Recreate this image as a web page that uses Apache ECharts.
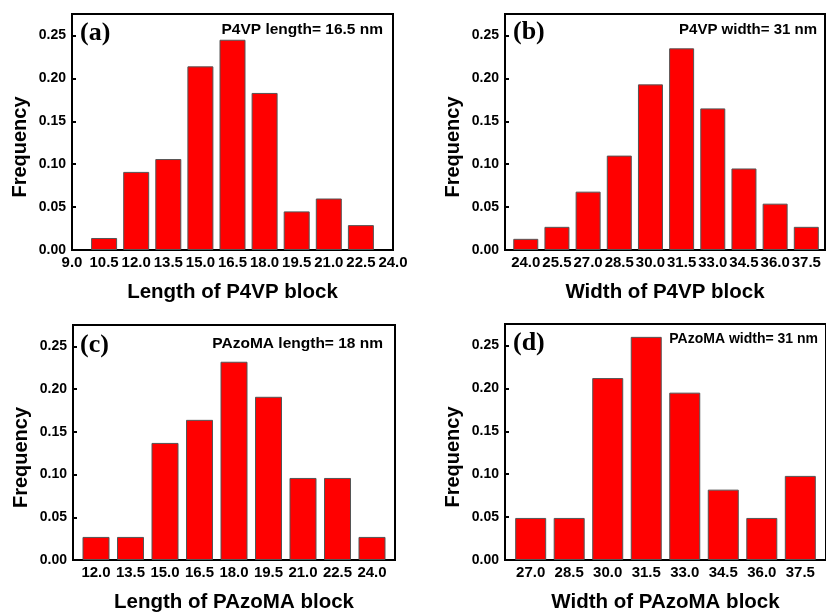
<!DOCTYPE html>
<html>
<head>
<meta charset="utf-8">
<script src="https://cdn.jsdelivr.net/npm/echarts@6/dist/echarts.min.js"></script>
<style>
  html, body { margin: 0; padding: 0; background: #fff; }
  #chart { width: 826px; height: 614px; }
</style>
</head>
<body>
<div id="chart"></div>
<script>
// bin centres and frequencies
const lenP4VPBins = [10.5, 12.0, 13.5, 15.0, 16.5, 18.0, 19.5, 21.0, 22.5];
const lenP4VPFreq = [0.014, 0.091, 0.106, 0.214, 0.245, 0.183, 0.045, 0.060, 0.029];
const widP4VPBins = [24.0, 25.5, 27.0, 28.5, 30.0, 31.5, 33.0, 34.5, 36.0, 37.5];
const widP4VPFreq = [0.013, 0.027, 0.068, 0.110, 0.193, 0.235, 0.165, 0.095, 0.054, 0.027];
const lenPAzoMABins = [12.0, 13.5, 15.0, 16.5, 18.0, 19.5, 21.0, 22.5, 24.0];
const lenPAzoMAFreq = [0.027, 0.027, 0.137, 0.164, 0.232, 0.191, 0.096, 0.096, 0.027];
const widPAzoMABins = [27.0, 28.5, 30.0, 31.5, 33.0, 34.5, 36.0, 37.5];
const widPAzoMAFreq = [0.049, 0.049, 0.212, 0.260, 0.195, 0.082, 0.049, 0.098];

// tick labels
const lenP4VPTicks = [9.0, 10.5, 12.0, 13.5, 15.0, 16.5, 18.0, 19.5, 21.0, 22.5, 24.0];
const widP4VPTicks = [24.0, 25.5, 27.0, 28.5, 30.0, 31.5, 33.0, 34.5, 36.0, 37.5];
const lenPAzoMATicks = [12.0, 13.5, 15.0, 16.5, 18.0, 19.5, 21.0, 22.5, 24.0];
const widPAzoMATicks = [27.0, 28.5, 30.0, 31.5, 33.0, 34.5, 36.0, 37.5];
const freqTicks = [0, 0.05, 0.10, 0.15, 0.20, 0.25];

const sans = 'Liberation Sans';
const serif = 'Liberation Serif';

const panels = [
  { grid: { left: 72, top: 14, width: 321, height: 236 }, min: 9, max: 24, ticks: lenP4VPTicks,
    bins: lenP4VPBins, freq: lenP4VPFreq, barW: 26, xName: 'Length of P4VP block' },
  { grid: { left: 505, top: 14, width: 320, height: 236 }, min: 23, max: 38.4, ticks: widP4VPTicks,
    bins: widP4VPBins, freq: widP4VPFreq, barW: 25, xName: 'Width of P4VP block' },
  { grid: { left: 73, top: 325, width: 322, height: 237 }, min: 11, max: 25, ticks: lenPAzoMATicks,
    bins: lenPAzoMABins, freq: lenPAzoMAFreq, barW: 27, xName: 'Length of PAzoMA block' },
  { grid: { left: 505, top: 324, width: 322, height: 236 }, min: 26, max: 38.5, ticks: widPAzoMATicks,
    bins: widPAzoMABins, freq: widPAzoMAFreq, barW: 31, xName: 'Width of PAzoMA block' }
];

const grids = [], xAxes = [], yAxes = [], series = [];
panels.forEach((p, i) => {
  grids.push(Object.assign({ show: true, borderColor: '#000', borderWidth: 2, backgroundColor: 'transparent' }, p.grid));
  xAxes.push({
    type: 'value', gridIndex: i, min: p.min, max: p.max,
    name: p.xName, nameLocation: 'middle', nameGap: 32,
    nameTextStyle: { fontFamily: sans, fontWeight: 'bold', fontSize: 20.5, color: '#000' },
    axisLine: { show: true, lineStyle: { color: '#000', width: 2 } },
    axisTick: { show: true, inside: true, length: 4, lineStyle: { color: '#000', width: 2 }, customValues: p.ticks },
    axisLabel: { fontFamily: sans, fontWeight: 'bold', fontSize: 15, color: '#000', margin: 5,
      customValues: p.ticks, formatter: v => v.toFixed(1) },
    splitLine: { show: false }
  });
  yAxes.push({
    type: 'value', gridIndex: i, min: 0, max: 0.275,
    name: 'Frequency', nameLocation: 'middle', nameGap: 42,
    // the title sits a little below the middle of the axis
    nameTextStyle: { fontFamily: sans, fontWeight: 'bold', fontSize: 20, color: '#000', padding: [0, 30, 0, 0] },
    axisLine: { show: true, lineStyle: { color: '#000', width: 2 } },
    axisTick: { show: true, inside: true, length: 4, lineStyle: { color: '#000', width: 2 }, customValues: freqTicks },
    axisLabel: { fontFamily: sans, fontWeight: 'bold', fontSize: 14, color: '#000', margin: 6,
      customValues: freqTicks, formatter: v => v.toFixed(2) },
    splitLine: { show: false }
  });
  series.push({
    type: 'bar', xAxisIndex: i, yAxisIndex: i, barWidth: p.barW,
    data: p.bins.map((b, k) => [b, p.freq[k]]),
    itemStyle: { color: '#ff0000', borderColor: '#555', borderWidth: 1 },
    z: 1
  });
});

const label = (text, left, top) => ({
  text, left, top, padding: 0,
  textStyle: { fontFamily: serif, fontWeight: 'bold', fontSize: 26, color: '#000' }
});
const note = (text, right, top, size) => ({
  text, right, top, padding: 0,
  textStyle: { fontFamily: sans, fontWeight: 'bold', fontSize: size, color: '#000' }
});

const chart = echarts.init(document.getElementById('chart'));
chart.setOption({
  animation: false,
  title: [
    label('(a)', 80, 20), label('(b)', 513, 19), label('(c)', 80, 332), label('(d)', 513, 330),
    note('P4VP length= 16.5 nm', 443, 22, 15.5), note('P4VP width= 31 nm', 9, 22, 15),
    note('PAzoMA length= 18 nm', 443, 336, 15.5), note('PAzoMA width= 31 nm', 8, 332, 14)
  ],
  grid: grids,
  xAxis: xAxes,
  yAxis: yAxes,
  series: series
});
</script>
</body>
</html>
